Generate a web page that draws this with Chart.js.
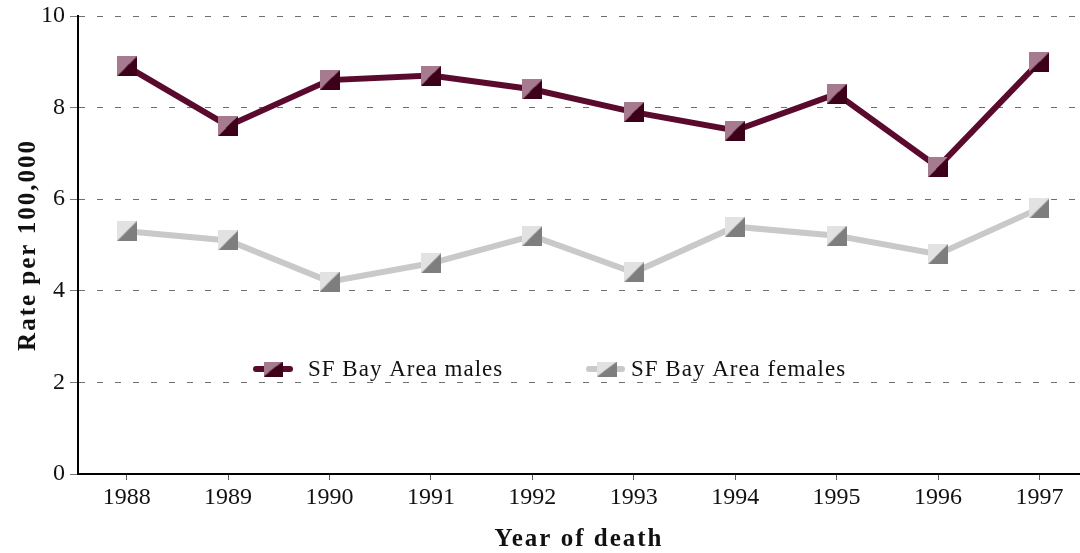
<!DOCTYPE html>
<html>
<head>
<meta charset="utf-8">
<title>Rate per 100,000 by year of death</title>
<script src="https://cdn.jsdelivr.net/npm/chart.js@4/dist/chart.umd.min.js"></script>
<style>
    html, body { margin: 0; padding: 0; background: #fff; overflow: hidden; }
    #wrap { width: 1080px; height: 553px; }
</style>
</head>
<body>
<div id="wrap"><canvas id="rateChart" width="1080" height="553"></canvas></div>
<script>
// data
const years = [1988, 1989, 1990, 1991, 1992, 1993, 1994, 1995, 1996, 1997];
const malesRate = [8.9, 7.6, 8.6, 8.7, 8.4, 7.9, 7.5, 8.3, 6.7, 9.0];
const femalesRate = [5.3, 5.1, 4.2, 4.6, 5.2, 4.4, 5.4, 5.2, 4.8, 5.8];
const yTicks = [0, 2, 4, 6, 8, 10];
const seriesNames = ['SF Bay Area males', 'SF Bay Area females'];
const xTitle = 'Year of death';
const yTitle = 'Rate per 100,000';

const serif = "'Liberation Serif', 'Times New Roman', serif";

// square marker split on the diagonal: light top-left, dark bottom-right
function makeMarker(w, h, light, dark) {
    const c = document.createElement('canvas');
    c.width = w;
    c.height = h;
    const g = c.getContext('2d');
    g.fillStyle = light;
    g.beginPath(); g.moveTo(0, 0); g.lineTo(w, 0); g.lineTo(0, h); g.closePath(); g.fill();
    g.fillStyle = dark;
    g.beginPath(); g.moveTo(w, 0); g.lineTo(w, h); g.lineTo(0, h); g.closePath(); g.fill();
    return c;
}

const maleColors = { line: '#5a0a2c', light: '#a67a8f', dark: '#3c0019' };
const femaleColors = { line: '#c9c9c9', light: '#e2e2e2', dark: '#7e7e7e' };

const maleMarker = makeMarker(20, 20, maleColors.light, maleColors.dark);
const femaleMarker = makeMarker(20, 20, femaleColors.light, femaleColors.dark);
const maleKey = makeMarker(19, 15, maleColors.light, maleColors.dark);
const femaleKey = makeMarker(20, 15, femaleColors.light, femaleColors.dark);

function toPoints(vals) {
    return years.map((yr, i) => ({ x: yr, y: vals[i] }));
}

// axis titles and legend drawn by hand so letter spacing can be applied
const decorations = {
    id: 'decorations',
    afterDraw(chart) {
        const ctx = chart.ctx;
        const area = chart.chartArea;
        ctx.save();
        ctx.fillStyle = '#111';
        ctx.letterSpacing = '2px';
        ctx.font = 'bold 25px ' + serif;
        ctx.textAlign = 'center';
        ctx.textBaseline = 'middle';
        ctx.fillText(xTitle, (area.left + area.right) / 2, 540);

        ctx.translate(29, (area.top + area.bottom) / 2);
        ctx.rotate(-Math.PI / 2);
        ctx.fillText(yTitle, 0, 0);
        ctx.restore();

        // legend
        const keys = [
            { name: seriesNames[0], color: maleColors.line, img: maleKey, x0: 256, x1: 290, mx: 273, tx: 308 },
            { name: seriesNames[1], color: femaleColors.line, img: femaleKey, x0: 589, x1: 622, mx: 607, tx: 631 }
        ];
        const ly = 369;
        ctx.save();
        keys.forEach(k => {
            ctx.strokeStyle = k.color;
            ctx.lineWidth = 6;
            ctx.lineCap = 'round';
            ctx.beginPath();
            ctx.moveTo(k.x0, ly);
            ctx.lineTo(k.x1, ly);
            ctx.stroke();
            ctx.drawImage(k.img, k.mx - k.img.width / 2, ly - k.img.height / 2);
            ctx.fillStyle = '#111';
            ctx.font = '23px ' + serif;
            ctx.letterSpacing = '1px';
            ctx.textAlign = 'left';
            ctx.textBaseline = 'alphabetic';
            ctx.fillText(k.name, k.tx, 376);
        });
        ctx.restore();
    }
};

const rateChart = new Chart(document.getElementById('rateChart'), {
    type: 'line',
    data: {
        datasets: [{
            label: seriesNames[0],
            data: toPoints(malesRate),
            borderColor: maleColors.line,
            backgroundColor: maleColors.line,
            borderWidth: 6,
            pointStyle: maleMarker,
            pointRadius: 10,
            tension: 0,
            fill: false
        }, {
            label: seriesNames[1],
            data: toPoints(femalesRate),
            borderColor: femaleColors.line,
            backgroundColor: femaleColors.line,
            borderWidth: 6,
            pointStyle: femaleMarker,
            pointRadius: 10,
            tension: 0,
            fill: false
        }]
    },
    options: {
        responsive: false,
        animation: false,
        devicePixelRatio: 1,
        layout: { autoPadding: false, padding: { top: 16, left: 0, right: 0, bottom: 0 } },
        plugins: {
            legend: { display: false },
            tooltip: { enabled: false }
        },
        scales: {
            x: {
                type: 'linear',
                min: 1987.52,
                max: 1997.4,
                afterBuildTicks: s => { s.ticks = years.map(v => ({ value: v })); },
                afterFit: s => { s.height = 79; s.paddingLeft = 0; s.paddingRight = 0; },
                grid: { drawOnChartArea: false, tickLength: 6, tickColor: '#555', tickWidth: 1 },
                border: { display: true, color: '#000', width: 2 },
                ticks: {
                    callback: v => String(v),
                    color: '#111',
                    font: { family: serif, size: 24 },
                    padding: 3,
                    maxRotation: 0,
                    autoSkip: false
                }
            },
            y: {
                min: 0,
                max: 10,
                afterBuildTicks: s => { s.ticks = yTicks.map(v => ({ value: v })); },
                afterFit: s => { s.width = 78; s.paddingTop = 0; s.paddingBottom = 0; },
                grid: {
                    color: c => (c.tick && c.tick.value === 0) ? 'rgba(0,0,0,0)' : '#6e6e6e',
                    lineWidth: 1,
                    tickLength: 8,
                    tickColor: '#777'
                },
                border: { display: true, color: '#000', width: 2, dash: [6, 12] },
                ticks: {
                    color: '#111',
                    font: { family: serif, size: 24 },
                    padding: 5
                }
            }
        }
    },
    plugins: [decorations]
});
</script>
</body>
</html>
